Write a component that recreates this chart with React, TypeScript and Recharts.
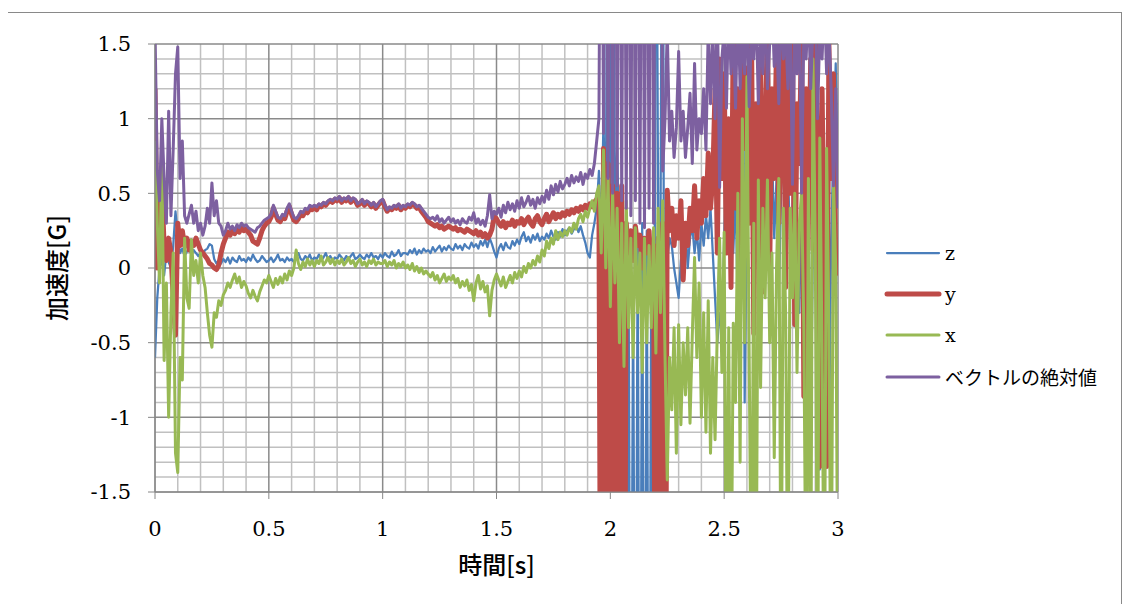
import React from 'react';
import { LineChart, Line, XAxis, YAxis, CartesianGrid, Legend } from 'recharts';

// z component [G], sampled every 0.01 s from 0 to 3 s
const Z = [
  -0.60, -0.20, 0.00, 0.06, -0.05, 0.10, 0.04, 0.00, 0.15, 0.38,
  0.22, 0.10, 0.13, 0.08, 0.11, 0.13, 0.09, 0.12, 0.10, 0.08,
  0.10, 0.09, 0.12, 0.13, 0.16, 0.15, 0.06, 0.03, 0.05, 0.03,
  0.06, 0.04, 0.07, 0.03, 0.07, 0.05, 0.04, 0.08, 0.05, 0.06,
  0.04, 0.07, 0.05, 0.09, 0.06, 0.04, 0.05, 0.08, 0.06, 0.04,
  0.05, 0.07, 0.04, 0.06, 0.09, 0.05, 0.06, 0.04, 0.07, 0.05,
  0.06, 0.04, 0.07, 0.10, 0.06, 0.05, 0.08, 0.06, 0.09, 0.05,
  0.07, 0.06, 0.09, 0.05, 0.07, 0.10, 0.06, 0.08, 0.05, 0.07,
  0.06, 0.09, 0.07, 0.05, 0.08, 0.06, 0.08, 0.10, 0.06, 0.07,
  0.09, 0.07, 0.06, 0.09, 0.07, 0.10, 0.07, 0.08, 0.06, 0.09,
  0.07, 0.10, 0.08, 0.07, 0.11, 0.08, 0.09, 0.12, 0.08, 0.10,
  0.10, 0.09, 0.12, 0.10, 0.13, 0.09, 0.12, 0.10, 0.13, 0.11,
  0.12, 0.10, 0.14, 0.11, 0.13, 0.15, 0.11, 0.14, 0.12, 0.15,
  0.13, 0.12, 0.16, 0.13, 0.15, 0.12, 0.16, 0.14, 0.13, 0.17,
  0.14, 0.16, 0.13, 0.18, 0.15, 0.19, 0.14, 0.20, 0.16, 0.11,
  0.07, 0.13, 0.16, 0.12, 0.17, 0.14, 0.13, 0.18, 0.15, 0.19,
  0.16, 0.21, 0.24, 0.18, 0.21, 0.17, 0.22, 0.19, 0.23, 0.18,
  0.21, 0.19, 0.23, 0.20, 0.25, 0.21, 0.19, 0.24, 0.21, 0.26,
  0.22, 0.25, 0.27, 0.23, 0.26, 0.29, 0.24, 0.28, 0.22, 0.17,
  0.10, 0.07, 0.22, 0.30, 0.40, 0.65, 0.20, 1.00, 0.15, 4.00,
  0.50, 4.00, 0.30, 0.80, 0.10, 0.40, -0.20, -4.00, 0.00, -4.00,
  -0.10, -4.00, 0.20, -4.00, 0.30, -4.00, 0.25, -4.00, 0.10, -4.00,
  4.00, 0.30, 0.10, 4.00, -4.00, 0.05, 0.20, 0.15, 0.00, -0.10,
  -0.20, 0.05, 0.15, 0.30, 0.00, 0.20, 0.28, 0.10, 0.25, 0.05,
  0.30, 0.15, 0.35, 0.20, 0.40, 0.10, -0.20, -0.50, -0.30, -0.45,
  0.20, 0.60, 0.30, 0.80, 0.10, 0.50, -0.30, -0.60, 3.00, -0.90,
  0.40, 1.20, 0.70, 0.20, 0.60, 0.30, 0.80, 0.40, 0.10, 0.50,
  0.36, 0.80, 0.20, 0.60, -0.20, 0.50, 0.90, 0.30, 0.70, 0.10,
  0.40, 0.90, 0.20, -0.30, 0.50, -0.80, 0.30, 0.60, -1.15, 0.20,
  0.72, 0.30, -1.35, -0.50, 0.40, -1.00, -1.25, 0.20, 0.80, 1.37,
  0.50,
];

// y component [G]
const Y = [
  1.20, 0.00, 0.10, 0.55, 0.15, 0.05, 0.20, 0.10, -0.20, -0.45,
  0.30, 0.15, 0.25, 0.15, 0.20, 0.12, 0.18, 0.15, 0.20, 0.16,
  0.12, 0.10, 0.08, 0.06, 0.03, 0.02, 0.00, -0.01, 0.02, 0.10,
  0.16, 0.20, 0.24, 0.22, 0.25, 0.23, 0.26, 0.24, 0.27, 0.25,
  0.26, 0.24, 0.22, 0.18, 0.17, 0.16, 0.20, 0.25, 0.28, 0.30,
  0.31, 0.34, 0.40, 0.36, 0.32, 0.31, 0.34, 0.33, 0.38, 0.41,
  0.36, 0.32, 0.31, 0.33, 0.36, 0.35, 0.38, 0.37, 0.40, 0.39,
  0.41, 0.39, 0.42, 0.41, 0.43, 0.42, 0.44, 0.45, 0.44, 0.46,
  0.45, 0.47, 0.44, 0.46, 0.45, 0.47, 0.44, 0.46, 0.45, 0.42,
  0.43, 0.45, 0.42, 0.44, 0.43, 0.41, 0.43, 0.40, 0.42, 0.44,
  0.45, 0.41, 0.38, 0.40, 0.39, 0.41, 0.40, 0.42, 0.39, 0.41,
  0.40, 0.42, 0.41, 0.43, 0.42, 0.40, 0.41, 0.38, 0.36, 0.34,
  0.31, 0.30, 0.29, 0.28, 0.29, 0.27, 0.28, 0.26, 0.27, 0.28,
  0.27, 0.26, 0.27, 0.25, 0.26, 0.25, 0.24, 0.26, 0.25, 0.24,
  0.23, 0.25, 0.22, 0.24, 0.21, 0.23, 0.20, 0.22, 0.26, 0.35,
  0.33, 0.30, 0.28, 0.31, 0.27, 0.30, 0.29, 0.32, 0.28, 0.31,
  0.30, 0.33, 0.29, 0.32, 0.34, 0.30, 0.28, 0.33, 0.35, 0.31,
  0.29, 0.33, 0.36, 0.31, 0.34, 0.37, 0.33, 0.36, 0.34, 0.37,
  0.35, 0.38, 0.36, 0.39, 0.37, 0.40, 0.38, 0.41, 0.39, 0.42,
  0.40, 0.43, 0.41, 0.44, 0.46, 0.42, -4.00, 0.80, -4.00, 0.70,
  -4.00, 0.55, -4.00, 0.50, -4.00, 0.55, -4.00, 0.30, 0.10, 0.25,
  0.05, 0.28, 0.15, 0.22, 0.00, 0.20, 0.10, 0.25, -0.03, 0.15,
  -4.00, 0.20, -4.00, 0.30, -4.00, 0.52, 0.25, 0.40, 0.15, 0.35,
  0.20, 0.45, -0.08, 0.30, 0.15, 0.40, 0.25, 0.55, 0.20, 0.45,
  0.30, 0.60, 0.35, 0.77, 0.40, 0.60, 1.20, 0.10, 1.40, 0.60,
  1.30, 0.10, 1.00, -0.13, 1.60, 0.40, 1.20, 0.06, 1.50, 0.80,
  1.34, 0.30, 1.60, -0.44, 1.10, 0.50, 1.40, -0.16, 0.90, 1.60,
  0.00, 1.20, 0.60, 1.50, 0.30, 1.00, 1.60, -0.13, 1.30, 0.50,
  1.50, -0.38, 1.10, 0.70, 1.60, -0.86, 1.20, 0.40, 1.40, 0.12,
  1.60, 0.80, -1.33, 1.20, 0.00, -1.33, 1.50, 0.60, 1.30, 0.00,
  -0.05,
];

// x component [G]
const X = [
  0.85, 0.30, -0.10, 0.78, -0.62, -0.10, -1.00, -0.30, 0.10, -1.24,
  -1.37, -0.60, -0.75, 0.20, -0.20, -0.27, 0.19, -0.05, 0.05, -0.10,
  0.10, -0.05, -0.13, -0.30, -0.45, -0.53, -0.30, -0.33, -0.22, -0.25,
  -0.18, -0.15, -0.10, -0.13, -0.08, -0.04, -0.10, -0.06, -0.13, -0.09,
  -0.12, -0.17, -0.20, -0.15, -0.19, -0.22, -0.16, -0.12, -0.08, -0.10,
  -0.05, -0.09, -0.13, -0.07, -0.11, -0.06, -0.10, -0.04, -0.08, -0.02,
  -0.05, 0.00, 0.12, 0.03, -0.01, 0.04, 0.01, 0.06, 0.02, 0.05,
  0.01, 0.05, 0.03, 0.08, 0.02, 0.04, 0.07, 0.03, 0.06, 0.02,
  0.05, 0.03, 0.06, 0.02, 0.04, 0.07, 0.03, 0.05, 0.01, 0.04,
  0.06, 0.02, 0.04, 0.01, 0.05, 0.03, 0.06, 0.02, 0.04, 0.03,
  0.03, 0.05, 0.01, 0.04, 0.02, 0.05, 0.00, 0.03, 0.01, 0.04,
  0.00, 0.02, -0.01, 0.03, -0.02, 0.01, -0.03, 0.00, -0.04, -0.02,
  -0.04, -0.06, -0.03, -0.08, -0.05, -0.10, -0.07, -0.04, -0.09, -0.06,
  -0.08, -0.05, -0.10, -0.07, -0.13, -0.09, -0.12, -0.08, -0.15, -0.11,
  -0.22, -0.10, -0.05, -0.14, -0.09, -0.16, -0.12, -0.32, -0.15, -0.08,
  -0.04, -0.08, -0.12, -0.06, -0.13, -0.09, -0.05, -0.10, -0.03, -0.07,
  -0.02, -0.06, 0.01, -0.03, 0.03, 0.00, 0.05, 0.02, 0.08, 0.04,
  0.12, 0.08, 0.18, 0.13, 0.20, 0.16, 0.25, 0.19, 0.24, 0.21,
  0.25, 0.22, 0.27, 0.24, 0.30, 0.26, 0.33, 0.36, 0.31, 0.38,
  0.34, 0.40, 0.45, 0.38, 0.50, 0.55, 0.10, 0.79, 0.00, 0.60,
  -0.26, 0.50, -0.10, 0.40, -0.50, 0.30, -0.66, 0.45, -0.40, 0.20,
  -0.60, 0.27, -0.30, 0.10, -0.70, 0.20, -0.50, 0.15, -0.40, 0.27,
  -0.57, 0.40, -0.30, 0.45, -0.57, -1.42, -0.60, -0.95, -0.40, -1.24,
  -0.38, -1.05, -0.50, -0.85, -0.40, -1.04, -0.45, 0.07, -0.60, -0.10,
  -1.00, -0.30, -1.10, -0.22, -1.24, -0.60, -1.15, -0.40, 0.20, -0.70,
  0.24, -2.50, -0.40, -2.50, -0.37, -0.90, 0.50, -1.30, 1.00, -0.50,
  1.28, -0.60, -2.50, 0.30, -2.50, 0.59, -0.80, 0.40, -0.20, 0.59,
  -0.50, 0.10, -1.27, 0.00, 0.60, -2.50, 0.40, -0.30, -2.50, 0.40,
  -0.20, 0.50, -0.70, 0.30, 0.50, -0.40, -2.50, 0.60, -2.50, 1.40,
  0.20, -2.50, 0.87, -0.60, -2.50, 0.80, -0.40, -2.50, 0.60, 0.00,
  -2.50,
];

// magnitude of the vector [G]
const V = [
  1.60, 0.65, 0.45, 1.00, 0.60, 0.30, 1.05, 0.35, 0.80, 1.30,
  1.48, 0.60, 0.85, 0.35, 0.30, 0.36, 0.42, 0.30, 0.38, 0.25,
  0.30, 0.22, 0.28, 0.40, 0.30, 0.57, 0.35, 0.45, 0.30, 0.28,
  0.22, 0.25, 0.30, 0.26, 0.28, 0.25, 0.29, 0.27, 0.30, 0.28,
  0.29, 0.27, 0.26, 0.25, 0.24, 0.27, 0.28, 0.30, 0.32, 0.33,
  0.34, 0.36, 0.42, 0.38, 0.34, 0.33, 0.36, 0.35, 0.40, 0.43,
  0.38, 0.34, 0.33, 0.35, 0.38, 0.37, 0.40, 0.39, 0.42, 0.41,
  0.42, 0.41, 0.43, 0.42, 0.44, 0.43, 0.45, 0.46, 0.45, 0.47,
  0.46, 0.48, 0.45, 0.47, 0.46, 0.48, 0.45, 0.47, 0.46, 0.43,
  0.44, 0.46, 0.43, 0.45, 0.44, 0.42, 0.44, 0.41, 0.43, 0.45,
  0.46, 0.42, 0.39, 0.41, 0.40, 0.42, 0.41, 0.43, 0.40, 0.42,
  0.41, 0.43, 0.42, 0.44, 0.43, 0.41, 0.42, 0.40, 0.38, 0.36,
  0.34, 0.33, 0.34, 0.32, 0.35, 0.31, 0.33, 0.30, 0.32, 0.34,
  0.31, 0.33, 0.30, 0.32, 0.29, 0.33, 0.31, 0.30, 0.34, 0.32,
  0.37, 0.30, 0.33, 0.29, 0.32, 0.28, 0.35, 0.49, 0.33, 0.38,
  0.36, 0.40, 0.34, 0.42, 0.37, 0.44, 0.39, 0.43, 0.38, 0.45,
  0.40, 0.47, 0.41, 0.44, 0.48, 0.42, 0.46, 0.40, 0.47, 0.43,
  0.48, 0.44, 0.52, 0.46, 0.55, 0.49, 0.56, 0.51, 0.58, 0.53,
  0.56, 0.60, 0.55, 0.62, 0.57, 0.61, 0.58, 0.64, 0.56, 0.63,
  0.60, 0.66, 0.62, 0.70, 0.85, 1.00, 4.00, 0.90, 4.00, 0.60,
  4.00, 0.50, 4.00, 0.55, 4.00, 0.45, 4.00, 0.40, 4.00, 0.35,
  4.00, 0.45, 4.00, 0.30, 4.00, 0.27, 4.00, 0.40, 4.00, 0.30,
  4.00, 1.60, 4.00, 0.65, 0.99, 1.60, 0.85, 1.05, 0.74, 0.94,
  1.45, 0.85, 1.05, 0.74, 0.94, 1.17, 0.70, 1.37, 0.79, 1.00,
  0.90, 1.20, 0.79, 1.60, 1.10, 1.60, 1.00, 1.80, 0.54, 1.40,
  1.60, 1.07, 1.80, 1.30, 1.60, 1.07, 1.80, 1.20, 1.60, 1.30,
  1.80, 1.08, 1.60, 1.40, 1.80, 1.10, 1.60, 1.30, 1.80, 1.20,
  1.50, 1.80, 1.35, 1.60, 1.10, 1.80, 1.40, 1.60, 1.20, 1.80,
  0.56, 1.60, 1.30, 1.80, 0.50, 1.60, 1.40, 1.80, 1.20, 1.60,
  1.80, 1.00, 1.60, 1.40, 1.80, 1.30, 1.60, 1.20, 0.55, 1.20,
  0.40,
];

const SAMPLE_STEP = 0.01; // seconds between samples
const TIME = Z.map((_, i) => Math.round(i * SAMPLE_STEP * 100) / 100);

const X_TICKS = [0, 0.5, 1, 1.5, 2, 2.5, 3];
const Y_TICKS = [-1.5, -1, -0.5, 0, 0.5, 1, 1.5];
const X_MINOR = [
  0.1, 0.2, 0.3, 0.4, 0.6, 0.7, 0.8, 0.9, 1.1, 1.2, 1.3, 1.4,
  1.6, 1.7, 1.8, 1.9, 2.1, 2.2, 2.3, 2.4, 2.6, 2.7, 2.8, 2.9,
];
const Y_MINOR = [
  -1.4, -1.3, -1.2, -1.1, -0.9, -0.8, -0.7, -0.6, -0.4, -0.3, -0.2, -0.1,
  0.1, 0.2, 0.3, 0.4, 0.6, 0.7, 0.8, 0.9, 1.1, 1.2, 1.3, 1.4,
];

const SERIES = [
  { key: 'z', name: 'z', color: '#4A7EBB', width: 2.25 },
  { key: 'y', name: 'y', color: '#BE4B48', width: 5 },
  { key: 'x', name: 'x', color: '#98B954', width: 3 },
  { key: 'v', name: 'ベクトルの絶対値', color: '#7D60A0', width: 3 },
];

const data = TIME.map((t, i) => ({ t, z: Z[i], y: Y[i], x: X[i], v: V[i] }));

const SERIF = "'DejaVu Serif', 'Noto Sans CJK JP', serif";
const CJK = "'Noto Sans CJK JP', sans-serif";

const LEGEND_W = 240;

const LegendBox = () => (
  <div style={{ fontFamily: SERIF, fontSize: 19, color: '#000' }}>
    {SERIES.map((s) => (
      <div key={s.key} style={{ display: 'flex', alignItems: 'center', height: 41.3 }}>
        <svg width={58} height={10} style={{ display: 'block' }}>
          <line x1={3} y1={5} x2={55} y2={5} stroke={s.color} strokeWidth={s.width} strokeLinecap="round" />
        </svg>
        <span style={{ marginLeft: 3, whiteSpace: 'nowrap' }}>{s.name}</span>
      </div>
    ))}
  </div>
);

export default function App() {
  return (
    <div style={{ position: 'relative', width: 1114, height: 596, background: '#fff' }}>
      <LineChart
        width={1114}
        height={596}
        data={data}
        margin={{ top: 36, right: 284 - LEGEND_W, left: 87, bottom: 52 }}
      >
        <CartesianGrid
          horizontalValues={Y_MINOR}
          verticalValues={X_MINOR}
          stroke="#C0C0C0"
          strokeWidth={1.5}
        />
        <CartesianGrid
          horizontalValues={Y_TICKS}
          verticalValues={X_TICKS}
          stroke="#8A8A8A"
          strokeWidth={1.5}
        />
        <XAxis
          dataKey="t"
          type="number"
          domain={[0, 3]}
          ticks={X_TICKS}
          interval={0}
          allowDataOverflow
          height={60}
          tickSize={7}
          tickMargin={22}
          stroke="#868686"
          tick={{ fill: '#000', fontSize: 21, fontFamily: SERIF }}
          label={{
            value: '時間[s]',
            position: 'insideBottom',
            offset: -22,
            style: { fontFamily: CJK, fontSize: 24, fontWeight: 500, fill: '#000' },
          }}
        />
        <YAxis
          type="number"
          domain={[-1.5, 1.5]}
          ticks={Y_TICKS}
          interval={0}
          allowDataOverflow
          width={60}
          tickSize={7}
          tickMargin={17}
          stroke="#868686"
          tick={{ fill: '#000', fontSize: 21, fontFamily: SERIF }}
          label={{
            value: '加速度[G]',
            angle: -90,
            position: 'insideLeft',
            offset: -38,
            style: { textAnchor: 'middle', fontFamily: CJK, fontSize: 24, fontWeight: 500, fill: '#000' },
          }}
        />
        {SERIES.map((s) => (
          <Line
            key={s.key}
            type="linear"
            dataKey={s.key}
            name={s.name}
            stroke={s.color}
            strokeWidth={s.width}
            strokeLinejoin="round"
            dot={false}
            activeDot={false}
            isAnimationActive={false}
          />
        ))}
        <Legend
          layout="horizontal"
          verticalAlign="middle"
          align="right"
          wrapperStyle={{ left: 876, top: 224, width: LEGEND_W, height: 170 }}
          content={() => <LegendBox />}
        />
      </LineChart>
      <div
        style={{
          position: 'absolute',
          left: -1,
          top: 4,
          width: 1113,
          height: 592,
          border: '1px solid #898989',
          pointerEvents: 'none',
        }}
      />
    </div>
  );
}
